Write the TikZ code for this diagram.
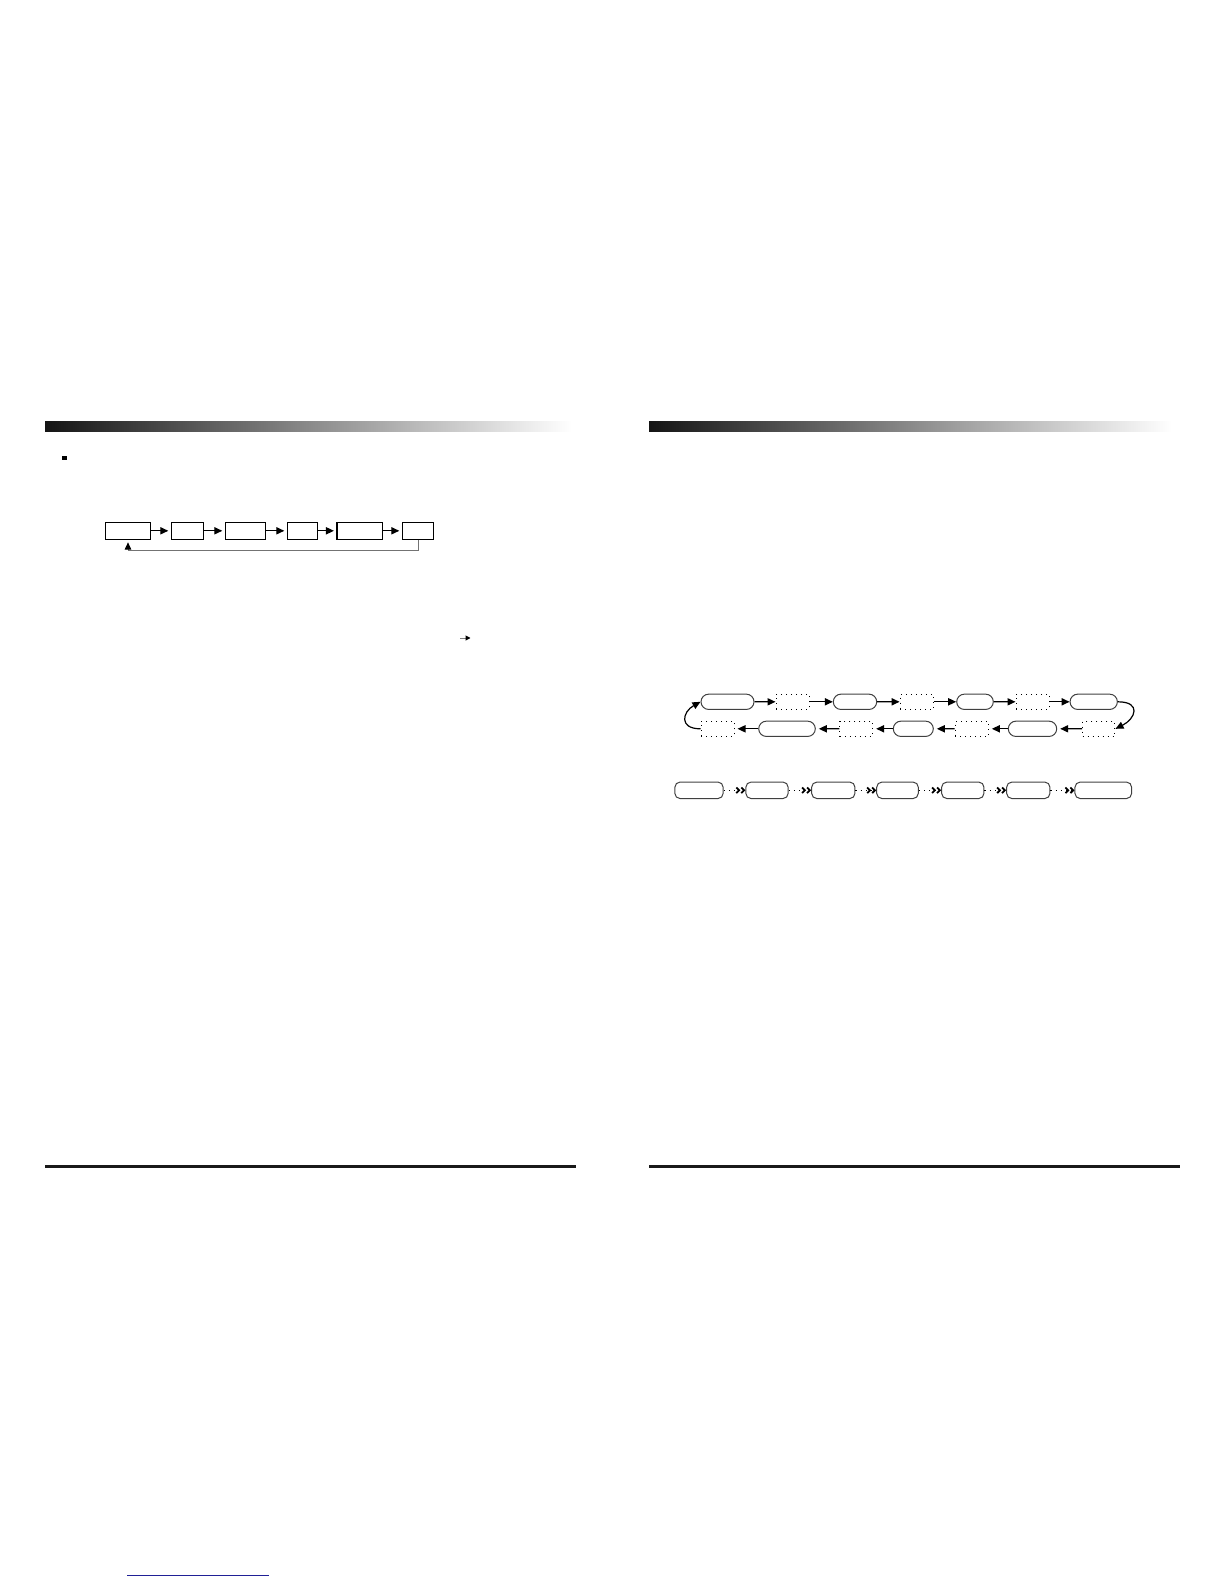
\documentclass[tikz,border=0pt]{standalone}
\usetikzlibrary{arrows.meta,shapes.misc}
\definecolor{linkblue}{RGB}{32,32,150}
\def\px{0.5pt}
\def\flowrow{530.8}
\def\rowone{701.8}
\def\rowtwo{728.8}
\def\rowthree{790.3}
\tikzset{
    flowbox/.style={rectangle, draw=black, line width=0.6pt, inner sep=0pt, minimum height=17*\px},
    pill/.style={rounded rectangle, draw=black!75, line width=0.5pt, inner sep=0pt, minimum height=15.3*\px},
    dotbox/.style={rectangle, draw=black, dotted, line width=0.5pt, inner sep=0pt, minimum height=15*\px},
    slot/.style={rectangle, rounded corners=2.6pt, draw=black!75, line width=0.5pt, inner sep=0pt, minimum height=16.5*\px},
    fwd/.style={line width=0.6pt, -{Triangle[length=4pt,width=3.6pt]}},
    skip/.style={dotted, line width=0.6pt,
        -{Straight Barb[length=1.4pt,line width=0.9pt] Straight Barb[length=1.4pt,line width=0.9pt]}},
}
\newcommand{\cell}[5][pill]{
    \node[#1, minimum width=#4*\px] (#2) at (#3,#5) {};
}

\begin{document}
\begin{tikzpicture}[x=\px, y=-\px]
    \useasboundingbox (0,0) rectangle (1224,1584);
    % header bars
    \shade[left color=black!92, right color=white] (45,421) rectangle (572,431);
    \shade[left color=black!92, right color=white] (649,421) rectangle (1172,431);
    % footer rules
    \draw[line width=1.5pt, black!90] (45,1166.5) -- (576,1166.5);
    \draw[line width=1.5pt, black!90] (649,1166.5) -- (1180,1166.5);
    \draw[line width=0.5pt, linkblue] (127,1575) -- (269,1575);
    % bullet
    \fill (62.3,456) rectangle (66.7,460.4);
    % loop of six stages
    \cell[flowbox]{b1}{128}{45.4}{\flowrow}
    \cell[flowbox]{b2}{187.5}{32.4}{\flowrow}
    \cell[flowbox]{b3}{245.5}{40.4}{\flowrow}
    \cell[flowbox]{b4}{302.5}{30.4}{\flowrow}
    \cell[flowbox]{b5}{359.8}{45.7}{\flowrow}
    \cell[flowbox]{b6}{418}{31.4}{\flowrow}
    \foreach \a/\b in {b1/b2,b2/b3,b3/b4,b4/b5,b5/b6}
        \draw[fwd, shorten >=1.2pt] (\a) -- (\b);
    \draw[line width=0.5pt, black!55, shorten >=1.2pt,
        -{Triangle[length=3.6pt,width=3.2pt,color=black]}]
        (b6.south) -- ++(0,10.7) -| (b1.south);
    % small arrow in the text
    \coordinate (txtfrom) at (460,638);
    \coordinate (txtto) at (470.5,638);
    \draw[line width=0.5pt, black!50, -{Triangle[length=2.4pt,width=2.4pt,color=black]}] (txtfrom) -- (txtto);
    % ring, upper row
    \cell{A1}{727.5}{53}{\rowone}
    \cell[dotbox]{D1}{792.5}{33}{\rowone}
    \cell{A2}{855}{43.4}{\rowone}
    \cell[dotbox]{D2}{916.7}{33.3}{\rowone}
    \cell{A3}{975}{36.6}{\rowone}
    \cell[dotbox]{D3}{1032.5}{33}{\rowone}
    \cell{A4}{1093.7}{47.3}{\rowone}
    % ring, lower row
    \cell[dotbox]{E1}{717.5}{33}{\rowtwo}
    \cell{B1}{787}{56.6}{\rowtwo}
    \cell[dotbox]{E2}{856.3}{32.7}{\rowtwo}
    \cell{B2}{913.3}{40}{\rowtwo}
    \cell[dotbox]{E3}{971.7}{33.3}{\rowtwo}
    \cell{B3}{1032.5}{48.4}{\rowtwo}
    \cell[dotbox]{E4}{1098.8}{32.3}{\rowtwo}
    \foreach \a/\b in {A1/D1,D1/A2,A2/D2,D2/A3,A3/D3,D3/A4}
        \draw[fwd] (\a) -- (\b);
    \foreach \a/\b in {E4/B3,B3/E3,E3/B2,B2/E2,E2/B1,B1/E1}
        \draw[fwd, shorten >=1.5pt] (\a) -- (\b);
    \draw[fwd] (A4.east) .. controls +(24,0) and +(20,-10) .. (E4.east);
    \draw[fwd] (E1.west) .. controls +(-22,0) and +(-18,10) .. (A1.west);
    % chain of seven
    \cell[slot]{C1}{699}{48.3}{\rowthree}
    \cell[slot]{C2}{767}{42.3}{\rowthree}
    \cell[slot]{C3}{833.3}{43.3}{\rowthree}
    \cell[slot]{C4}{897.5}{41.6}{\rowthree}
    \cell[slot]{C5}{962.8}{42.3}{\rowthree}
    \cell[slot]{C6}{1028.3}{43.3}{\rowthree}
    \cell[slot]{C7}{1103.3}{56.7}{\rowthree}
    \foreach \a/\b in {C1/C2,C2/C3,C3/C4,C4/C5,C5/C6,C6/C7}
        \draw[skip] (\a) -- (\b);
\end{tikzpicture}
\end{document}
